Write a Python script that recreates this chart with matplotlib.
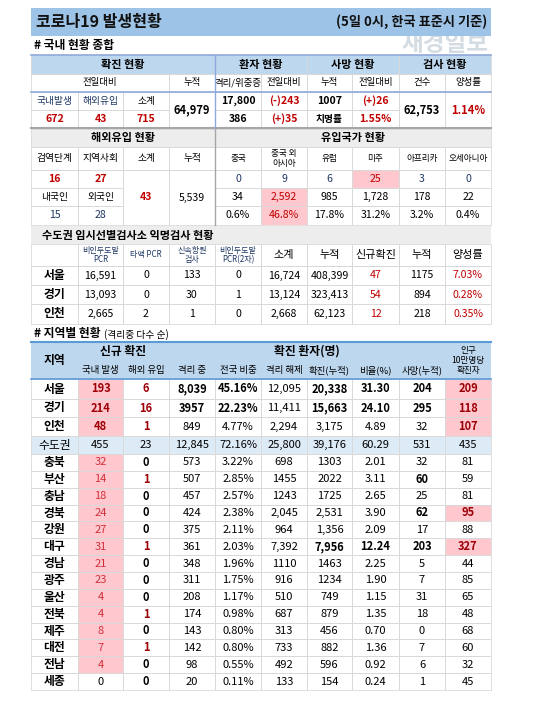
import matplotlib
matplotlib.use("Agg")
import matplotlib.pyplot as plt
from matplotlib.patches import Rectangle

plt.rcParams['font.family'] = ['Noto Sans CJK KR', 'DejaVu Sans']

# ---------------- data ----------------
title = "코로나19 발생현황"
subtitle = "(5일 0시, 한국 표준시 기준)"
sum_top = ["확진 현황", "환자 현황", "사망 현황", "검사 현황"]
sum_sub = ["전일대비", "누적", "격리/위중증", "전일대비", "누적", "전일대비", "건수", "양성률"]
conf_labels = ["국내발생", "해외유입", "소계"]
conf_values = ["672", "43", "715"]
conf_total = "64,979"
patient_row1 = ["17,800", "(-)243", "1007", "(+)26"]
patient_row2 = ["386", "(+)35", "치명률", "1.55%"]
test_count = "62,753"
test_rate = "1.14%"

imp_head = ["검역단계", "지역사회", "소계", "누적", "중국", "중국 외\n아시아", "유럽", "미주", "아프리카", "오세아니아"]
imp_stage = ["16", "27"]
imp_nat_labels = ["내국인", "외국인"]
imp_nat = ["15", "28"]
imp_sub = "43"
imp_total = "5,539"
country_new = ["0", "9", "6", "25", "3", "0"]
country_cum = ["34", "2,592", "985", "1,728", "178", "22"]
country_pct = ["0.6%", "46.8%", "17.8%", "31.2%", "3.2%", "0.4%"]

anon_head = ["", "비인두도말\nPCR", "타액 PCR", "신속항원\n검사", "비인두도말\nPCR(2차)", "소계", "누적", "신규확진", "누적", "양성률"]
anon_regions = ["서울", "경기", "인천"]
anon_pcr = ["16,591", "13,093", "2,665"]
anon_saliva = ["0", "0", "2"]
anon_rapid = ["133", "30", "1"]
anon_pcr2 = ["0", "1", "0"]
anon_sub = ["16,724", "13,124", "2,668"]
anon_cum = ["408,399", "323,413", "62,123"]
anon_new = ["47", "54", "12"]
anon_newcum = ["1175", "894", "218"]
anon_rate = ["7.03%", "0.28%", "0.35%"]

regions = ["서울", "경기", "인천", "수도권", "충북", "부산", "충남", "경북", "강원", "대구", "경남", "광주", "울산", "전북", "제주", "대전", "전남", "세종"]
local_new = ["193", "214", "48", "455", "32", "14", "18", "24", "27", "31", "21", "23", "4", "4", "8", "7", "4", "0"]
import_new = ["6", "16", "1", "23", "0", "1", "0", "0", "0", "1", "0", "0", "0", "1", "0", "1", "0", "0"]
isolated = ["8,039", "3957", "849", "12,845", "573", "507", "457", "424", "375", "361", "348", "311", "208", "174", "143", "142", "98", "20"]
share = ["45.16%", "22.23%", "4.77%", "72.16%", "3.22%", "2.85%", "2.57%", "2.38%", "2.11%", "2.03%", "1.96%", "1.75%", "1.17%", "0.98%", "0.80%", "0.80%", "0.55%", "0.11%"]
released = ["12,095", "11,411", "2,294", "25,800", "698", "1455", "1243", "2,045", "964", "7,392", "1110", "916", "510", "687", "313", "733", "492", "133"]
confirmed = ["20,338", "15,663", "3,175", "39,176", "1303", "2022", "1725", "2,531", "1,356", "7,956", "1463", "1234", "749", "879", "456", "882", "596", "154"]
ratio = ["31.30", "24.10", "4.89", "60.29", "2.01", "3.11", "2.65", "3.90", "2.09", "12.24", "2.25", "1.90", "1.15", "1.35", "0.70", "1.36", "0.92", "0.24"]
deaths = ["204", "295", "32", "531", "32", "60", "25", "62", "17", "203", "5", "7", "31", "18", "0", "7", "6", "1"]
per100k = ["209", "118", "107", "435", "81", "59", "81", "95", "88", "327", "44", "85", "65", "48", "68", "60", "32", "45"]

# ---------------- styling ----------------
W, H = 548, 701
fig = plt.figure(figsize=(W / 100, H / 100), dpi=100)
ax = fig.add_axes([0, 0, 1, 1])
ax.set_xlim(0, W)
ax.set_ylim(H, 0)
ax.axis('off')

XS = [31, 78, 123, 169, 215, 261, 307, 352, 399, 445, 491]
BLUE_T = "#9DC3E6"
BLUE_H = "#BDD7EE"
BLUE_L = "#DDEBF7"
GRAY = "#EDEDED"
PINK = "#FFC7CE"
RED = "#C00000"
RED2 = "#D0303A"
NAVY = "#1F3864"
GRID = "#D9D9D9"
FS = 7.6


def cell(c0, c1, y0, y1, text="", bg=None, color="black", bold=False, size=FS, edge=True):
    x0, x1 = XS[c0], XS[c1 + 1]
    if bg:
        ax.add_patch(Rectangle((x0, y0), x1 - x0, y1 - y0, fc=bg, ec="none", zorder=1))
    if edge:
        ax.add_patch(Rectangle((x0, y0), x1 - x0, y1 - y0, fc="none", ec=GRID, lw=0.6, zorder=2))
    if text:
        ax.text((x0 + x1) / 2, (y0 + y1) / 2, text, ha="center", va="center", fontsize=size,
                color=color, fontweight="bold" if bold else "normal", zorder=3, linespacing=1.1)


def hline(y, c0=0, c1=9, color="#8EA9DB", lw=1.2):
    ax.plot([XS[c0], XS[c1 + 1]], [y, y], color=color, lw=lw, zorder=4)


# title
ax.add_patch(Rectangle((31, 8), 460, 28, fc=BLUE_T, ec="none"))
ax.text(36, 22, title, fontsize=11.5, fontweight="bold", va="center", color="#111111")
ax.text(487, 22, subtitle, fontsize=9.5, fontweight="bold", va="center", ha="right", color="#111111")
ax.text(488, 44, "재경일보", fontsize=17, fontweight="bold", va="center", ha="right", color="#C9D3DC", alpha=0.8, zorder=0)
ax.text(34, 45, "# 국내 현황 종합", fontsize=8.5, fontweight="bold", va="center")

# summary header
r = [55, 74, 92, 110, 128]
for (c0, c1), t in zip([(0, 3), (4, 5), (6, 7), (8, 9)], sum_top):
    cell(c0, c1, r[0], r[1], t, bg=BLUE_H, bold=True, size=8)
sub_spans = [(0, 2), (3, 3), (4, 4), (5, 5), (6, 6), (7, 7), (8, 8), (9, 9)]
for (c0, c1), t in zip(sub_spans, sum_sub):
    cell(c0, c1, r[1], r[2], t, size=6.8)
for i in range(3):
    cell(i, i, r[2], r[3], conf_labels[i], color=NAVY if i < 2 else "black", size=7)
    cell(i, i, r[3], r[4], conf_values[i], color=RED, bold=True)
cell(3, 3, r[2], r[4], conf_total, bold=True, size=8)
for i in range(4):
    col = RED if i in (1, 3) else "black"
    cell(4 + i, 4 + i, r[2], r[3], patient_row1[i], color=col, bold=True)
    col2 = RED if i in (1, 3) else "black"
    cell(4 + i, 4 + i, r[3], r[4], patient_row2[i], color=col2, bold=True, size=FS if i != 2 else 7)
cell(8, 8, r[2], r[4], test_count, bold=True, size=8)
cell(9, 9, r[2], r[4], test_rate, color=RED, bold=True, size=8)
hline(55); hline(92); hline(r[4], color="#A6A6A6", lw=1.5)
ax.plot([XS[4], XS[4]], [55, 128], color="#8EA9DB", lw=1, zorder=4)

# imports
y = [129, 147, 170, 188, 206, 225]
cell(0, 3, y[0], y[1], "해외유입 현황", bg=GRAY, bold=True, size=8)
cell(4, 9, y[0], y[1], "유입국가 현황", bg=GRAY, bold=True, size=8)
for i, t in enumerate(imp_head):
    cell(i, i, y[1], y[2], t, size=7 if i < 4 else 6.2)
for i in range(2):
    cell(i, i, y[2], y[3], imp_stage[i], color=RED, bold=True)
    cell(i, i, y[3], y[4], imp_nat_labels[i], color="black", size=7)
    cell(i, i, y[4], y[5], imp_nat[i], color=NAVY)
cell(2, 2, y[2], y[5], imp_sub, color=RED, bold=True)
cell(3, 3, y[2], y[5], imp_total)
for i in range(6):
    cell(4 + i, 4 + i, y[2], y[3], country_new[i], bg=PINK if i == 3 else None, color=RED if i == 3 else NAVY)
    cell(4 + i, 4 + i, y[3], y[4], country_cum[i], bg=PINK if i == 1 else None, color=RED if i == 1 else "black")
    cell(4 + i, 4 + i, y[4], y[5], country_pct[i], bg=PINK if i == 1 else None, color=RED if i == 1 else "black")
ax.plot([XS[4], XS[4]], [129, 225], color="#A6A6A6", lw=1, zorder=4)

# anonymous testing
ax.add_patch(Rectangle((31, 226), 460, 18, fc=GRAY, ec="none"))
ax.text(42, 235, "수도권 임시선별검사소 익명검사 현황", fontsize=8, fontweight="bold", va="center")
a = [244, 266, 285, 304, 324]
for i, t in enumerate(anon_head):
    small = i in (1, 2, 3, 4)
    cell(i, i, a[0], a[1], t, color=NAVY if small else "black", size=5.8 if small else 8)
cols = [anon_pcr, anon_saliva, anon_rapid, anon_pcr2, anon_sub, anon_cum, anon_new, anon_newcum, anon_rate]
for j, reg in enumerate(anon_regions):
    cell(0, 0, a[j + 1], a[j + 2], reg, bold=True, size=8.5)
    for k, colv in enumerate(cols):
        c = RED if k in (6, 8) else "black"
        cell(k + 1, k + 1, a[j + 1], a[j + 2], colv[j], color=c)

# regional
ax.text(34, 334, "# 지역별 현황 ", fontsize=8.5, fontweight="bold", va="center")
ax.text(104, 335, "(격리중 다수 순)", fontsize=7, va="center")
h0, h1, h2 = 342, 361, 379
ax.add_patch(Rectangle((31, h0), 460, h2 - h0, fc=BLUE_H, ec="none"))
cell(0, 0, h0, h2, "지역", bold=True, size=8.5, edge=False)
cell(1, 2, h0, h1, "신규 확진", bold=True, size=8.5, edge=False)
cell(3, 8, h0, h1, "확진 환자(명)", bold=True, size=8.5, edge=False)
cell(9, 9, h0, h2, "인구\n10만명당\n확진자", size=6.2, edge=False)
for i, t in enumerate(["국내 발생", "해외 유입", "격리 중", "전국 비중", "격리 해제", "확진(누적)", "비율(%)", "사망(누적)"]):
    cell(i + 1, i + 1, h1, h2, t, size=6.8, edge=False)
hline(h0, color="#5B9BD5", lw=1.5)

bounds = [379, 399, 417, 436, 454]
for k in range(14):
    bounds.append(454 + (k + 1) * (690 - 454) / 14)

bold_sets = {
    3: {0, 1}, 4: {0, 1}, 6: {0, 1}, 7: {0, 1}, 8: {0, 1, 5, 7, 9}
}
bold_sets[6] = {0, 1, 9}
bold_sets[7] = {0, 1, 9}
pink_last = {0, 1, 2, 7, 9}
vals = [isolated, share, released, confirmed, ratio, deaths]
for j, reg in enumerate(regions):
    y0, y1 = bounds[j], bounds[j + 1]
    metro = reg == "수도권"
    bg = BLUE_L if metro else None
    cell(0, 0, y0, y1, reg, bg=bg, bold=not metro, size=8.5)
    # local new
    lp = (not metro) and reg != "세종"
    lc = "#9C0006" if j < 3 else (RED2 if lp else "black")
    cell(1, 1, y0, y1, local_new[j], bg=PINK if lp else bg, color=lc, bold=(j < 3), size=8)
    # imported new
    ic = "black" if (metro or import_new[j] == "0") else "#9C0006"
    cell(2, 2, y0, y1, import_new[j], bg=bg, color=ic, bold=not metro, size=8)
    for k, colv in enumerate(vals):
        b = j in bold_sets.get(k + 3, set())
        cell(3 + k, 3 + k, y0, y1, colv[j], bg=bg, bold=b, size=8)
    pl = j in pink_last
    cell(9, 9, y0, y1, per100k[j], bg=PINK if pl else bg, color="#9C0006" if pl else "black", bold=pl, size=8)
hline(h2, color="#5B9BD5", lw=1.2)

fig.savefig("out.png", dpi=100)
